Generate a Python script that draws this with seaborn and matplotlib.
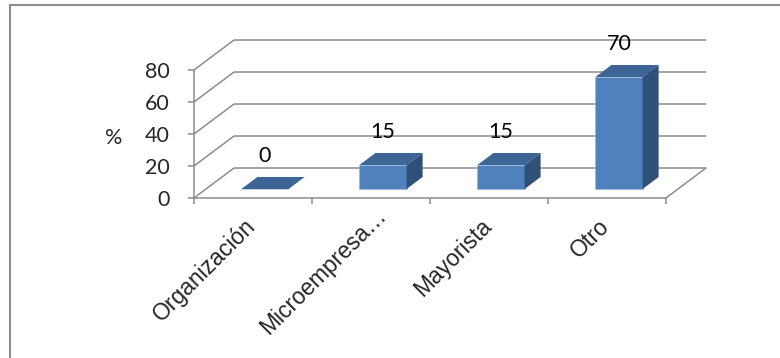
import matplotlib
matplotlib.use("Agg")
import matplotlib.pyplot as plt
from matplotlib.patches import Polygon, Rectangle
from matplotlib.transforms import ScaledTranslation
import seaborn as sns

# Data
categories = ["Organización", "Microempresa…", "Mayorista", "Otro"]
values = [0, 15, 15, 70]
y_ticks = [0, 20, 40, 60, 80]
y_label = "%"

# Colours
FRONT = "#4F81BD"
TOP = "#3C6494"
SIDE = "#2F5179"
GRID = "#8C8C8C"

sns.set_style("white")
plt.rcParams["font.family"] = ["Lato", "DejaVu Sans"]

W, H, DPI = 780, 358, 100
fig = plt.figure(figsize=(W / DPI, H / DPI), dpi=DPI)
ax = fig.add_axes([0, 0, 1, 1])

# pseudo-3D depth of the box (category units, value units)
DX, DY = 0.339, 18.75
BAR_W = 0.40
F0, F1 = 0.30, 0.70          # bar occupies this slice of the depth

sns.barplot(x=categories, y=values, ax=ax, width=BAR_W, color=FRONT,
            saturation=1, edgecolor="#9DB5D8", linewidth=0.4, zorder=3)

# push the bars back into the box
for p in ax.patches:
    p.set_x(p.get_x() + F0 * DX)
    p.set_y(p.get_y() + F0 * DY)

bdx, bdy = (F1 - F0) * DX, (F1 - F0) * DY
for p, v in zip(ax.patches, values):
    x0 = p.get_x()
    x1 = x0 + p.get_width()
    b = p.get_y()
    t = b + p.get_height()
    ax.add_patch(Polygon([(x0, t), (x1, t), (x1 + bdx, t + bdy), (x0 + bdx, t + bdy)],
                         closed=True, facecolor=TOP, edgecolor="none", zorder=3))
    ax.add_patch(Polygon([(x1, b), (x1, t), (x1 + bdx, t + bdy), (x1 + bdx, b + bdy)],
                         closed=True, facecolor=SIDE, edgecolor="none", zorder=3))
    ax.annotate(f"{v}", ((x0 + x1) / 2, t), xytext=(0, 23.5),
                textcoords="offset points", ha="center", va="center",
                fontsize=15.5, color="black", zorder=4)

n = len(categories)
left, right = -0.5, n - 0.5
# side wall and back wall grid lines
for v in y_ticks:
    ax.plot([left, left + DX], [v, v + DY], color=GRID, lw=1.1, zorder=1,
            solid_capstyle="butt")
    ax.plot([left + DX, right + DX], [v + DY, v + DY], color=GRID, lw=1.1,
            zorder=1, solid_capstyle="butt")
# right edge of the floor
ax.plot([right, right + DX], [0, DY], color=GRID, lw=1.1, zorder=1)

# axis extents chosen so that one category = 118 px, 1 unit = 1.6 px
x_lo = -194 / 118 - 0.5
x_hi = (W - 194) / 118 - 0.5
ax.set_xlim(x_lo, x_hi)
ax.set_ylim((198 - H) / 1.6, 198 / 1.6)

for s in ["top", "right"]:
    ax.spines[s].set_visible(False)
for s in ["left", "bottom"]:
    ax.spines[s].set_color(GRID)
    ax.spines[s].set_linewidth(1.1)
ax.spines["left"].set_position(("data", left))
ax.spines["left"].set_bounds(0, y_ticks[-1])
ax.spines["bottom"].set_position(("data", 0))
ax.spines["bottom"].set_bounds(left, right)

ax.set_yticks(y_ticks)
ax.set_yticklabels([str(t) for t in y_ticks], fontsize=15.5)
ax.tick_params(axis="y", direction="out", length=4.5, width=1.1, color=GRID,
               pad=13, left=True)

ax.set_xticks(range(n))
ax.set_xticks([i - 0.5 for i in range(n + 1)], minor=True)
ax.tick_params(axis="x", which="major", length=0, pad=12)
ax.tick_params(axis="x", which="minor", direction="out", length=4, width=1.1,
               color=GRID, bottom=True)
ax.set_xticklabels(categories, rotation=45, ha="right", rotation_mode="anchor",
                   fontsize=16.5, family=["Liberation Sans", "DejaVu Sans"])
ax.set_xlabel("")
for lab in ax.get_xticklabels():
    dx, dy = -0.09, 0.0
    if lab.get_text().endswith("…"):
        dx, dy = dx + 0.13, dy + 0.11
    lab.set_transform(lab.get_transform()
                      + ScaledTranslation(dx, dy, fig.dpi_scale_trans))

ax.set_ylabel(y_label, rotation=0, fontsize=15.5, ha="center", va="center")
ax.yaxis.set_label_coords(114 / W, 1 - 138 / H)

# chart-area border
fig.patches.append(Rectangle((10 / W, -0.1), 1.2, 1 - 5 / H + 0.1,
                             transform=fig.transFigure, fill=False,
                             edgecolor="#8C8C8C", linewidth=1.5))

fig.savefig("out.png", dpi=DPI)
